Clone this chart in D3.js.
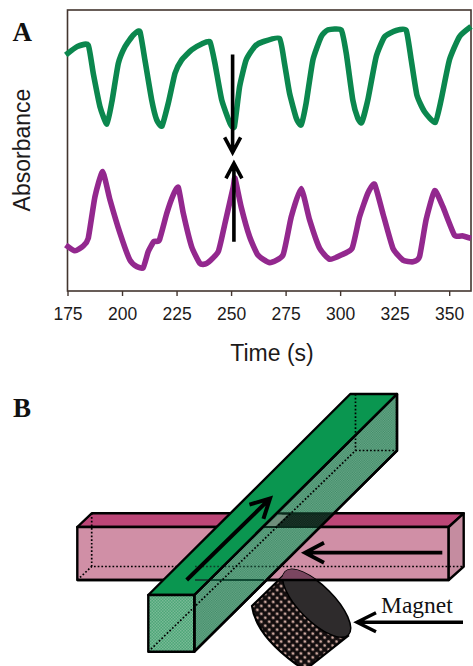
<!DOCTYPE html>
<html>
<head>
<meta charset="utf-8">
<script src="https://cdn.jsdelivr.net/npm/d3@7"></script>
<style>
  html, body { margin: 0; padding: 0; background: #fff; }
  svg { display: block; }
</style>
</head>
<body>
<div id="chart"></div>
<script>
// values (absorbance in arbitrary units, 0-100 over the frame height)
var greenTime = [174.2, 179.5, 184.5, 186.8, 189.9, 193.1, 195.5, 198.3, 201.4, 205.2, 208.2, 210.5, 213.6, 215.9, 218.3, 221.2, 224.3, 227.3, 231.9, 236.5, 240.3, 242.6, 245.7, 249.5, 251.5, 253.9, 256.9, 260.8, 264.6, 272.2, 274.5, 276.8, 279.9, 282.1, 284.4, 287.5, 291.3, 294.4, 300.5, 302.8, 305.8, 308.1, 309.9, 312.7, 316.5, 320.4, 325.7, 330.3, 332.6, 335.2, 338.7, 343.6, 346.3, 350.1, 354.7, 360];
var greenAbs = [84.0, 87.0, 87.5, 77.5, 65.6, 59.4, 68.0, 81.0, 87.0, 91.1, 92.3, 82.2, 68.0, 60.9, 58.7, 66.8, 77.5, 82.2, 85.8, 87.9, 88.7, 81.0, 68.0, 59.7, 58.5, 72.7, 82.2, 87.0, 88.7, 89.9, 81.0, 70.4, 61.5, 59.1, 66.8, 82.2, 90.5, 92.9, 92.9, 84.6, 68.0, 61.5, 60.0, 68.0, 83.3, 90.5, 92.7, 92.7, 82.2, 69.7, 63.8, 60.0, 68.0, 82.2, 90.5, 94.1];
var purpleTime = [174.2, 178.4, 182.2, 184.5, 187.6, 191.1, 194.5, 199.1, 203.6, 206.7, 209.7, 212, 214.6, 217.1, 220.5, 223.5, 225.8, 228.1, 231.9, 235.7, 238.8, 244.1, 247.2, 251, 251.8, 254.6, 258.5, 262.3, 267.7, 273.8, 277.6, 282.1, 286, 290.6, 295.2, 300.5, 305.5, 308.9, 312.7, 315.8, 319.6, 324.2, 328.8, 333.4, 336.4, 339.4, 343.3, 347.1, 352.4, 356.3, 360];
var purpleAbs = [16.4, 14.3, 16.0, 18.7, 33.6, 42.5, 32.4, 20.5, 11.0, 8.7, 8.3, 14.0, 17.6, 18.1, 27.6, 34.2, 36.9, 27.6, 15.8, 9.8, 9.8, 14.0, 24.1, 37.1, 40.1, 30.0, 19.3, 12.8, 10.1, 12.8, 26.4, 36.5, 25.3, 15.2, 11.3, 12.8, 15.2, 26.4, 34.8, 38.0, 27.6, 15.2, 11.0, 10.4, 12.2, 25.3, 35.7, 30.0, 19.9, 19.6, 18.7];
var xTicks = [175, 200, 225, 250, 275, 300, 325, 350];

var width = 473, height = 666;
var margin = { top: 10, right: 2, bottom: 375, left: 67.5 };

var svg = d3.select("#chart")
  .append("svg")
  .attr("width", width)
  .attr("height", height);

var x = d3.scaleLinear().domain([175, 360]).range([margin.left, width - margin.right]);
var y = d3.scaleLinear().domain([0, 100]).range([height - margin.bottom, margin.top]);

var frameColor = "#43352f";
var sans = "'Liberation Sans', Arial, sans-serif";
var serif = "'Liberation Serif', 'Times New Roman', serif";

// panel A
svg.append("rect")
  .attr("x", margin.left)
  .attr("y", margin.top)
  .attr("width", width - margin.left - margin.right)
  .attr("height", height - margin.top - margin.bottom)
  .attr("fill", "#fff")
  .attr("stroke", frameColor)
  .attr("stroke-width", 1.6);

var xAxis = svg.append("g")
  .attr("transform", "translate(0," + (height - margin.bottom) + ")")
  .call(d3.axisBottom(x).tickValues(xTicks).tickSize(5).tickPadding(12).tickSizeOuter(0));
xAxis.select(".domain").remove();
xAxis.selectAll("line").attr("stroke", frameColor).attr("stroke-width", 1.4);
xAxis.selectAll("text").attr("font-family", sans).attr("font-size", 17.5).attr("fill", "#1c1a1a");

var line = d3.line()
  .x(function (d) { return x(d[0]) })
  .y(function (d) { return y(d[1]) })
  .curve(d3.curveCardinal.tension(0.5));

svg.append("path")
  .attr("d", line(d3.zip(greenTime, greenAbs)))
  .attr("fill", "none")
  .attr("stroke", "#0b874e")
  .attr("stroke-width", 5.6)
  .attr("stroke-linejoin", "round");

svg.append("path")
  .attr("d", line(d3.zip(purpleTime, purpleAbs)))
  .attr("fill", "none")
  .attr("stroke", "#93288e")
  .attr("stroke-width", 5.6)
  .attr("stroke-linejoin", "round");

// draws a straight arrow with an open head; tip is the pointed end
function arrow(x0, y0, x1, y1, headBack, headSide, w) {
  var a = Math.atan2(y1 - y0, x1 - x0);
  var ux = Math.cos(a), uy = Math.sin(a);
  var d = d3.path();
  d.moveTo(x0, y0);
  d.lineTo(x1, y1);
  d.moveTo(x1 - ux * headBack - uy * headSide, y1 - uy * headBack + ux * headSide);
  d.lineTo(x1, y1);
  d.lineTo(x1 - ux * headBack + uy * headSide, y1 - uy * headBack - ux * headSide);
  svg.append("path")
    .attr("d", d.toString())
    .attr("fill", "none")
    .attr("stroke", "#000")
    .attr("stroke-width", w)
    .attr("stroke-linejoin", "miter");
}

arrow(x(250.7), y(84.2), x(250.7), y(49.3), 15, 8, 3.6);
arrow(x(251.3), y(17.5), x(251.3), y(45.4), 15, 8, 3.6);

svg.append("text")
  .attr("x", 272)
  .attr("y", 361)
  .attr("text-anchor", "middle")
  .attr("font-family", sans)
  .attr("font-size", 23)
  .attr("fill", "#1c1a1a")
  .text("Time (s)");

svg.append("text")
  .attr("transform", "translate(29.5,150) rotate(-90)")
  .attr("text-anchor", "middle")
  .attr("font-family", sans)
  .attr("font-size", 23)
  .attr("fill", "#1c1a1a")
  .text("Absorbance");

svg.append("text").attr("x", 12.5).attr("y", 41)
  .attr("font-family", serif).attr("font-weight", "bold").attr("font-size", 27).attr("fill", "#111")
  .text("A");
svg.append("text").attr("x", 13).attr("y", 417)
  .attr("font-family", serif).attr("font-weight", "bold").attr("font-size", 27).attr("fill", "#111")
  .text("B");

// panel B schematic
var defs = svg.append("defs");

function dither(id, base, dot, size) {
  var p = defs.append("pattern")
    .attr("id", id)
    .attr("patternUnits", "userSpaceOnUse")
    .attr("width", size)
    .attr("height", size);
  p.append("rect").attr("width", size).attr("height", size).attr("fill", base);
  p.append("rect").attr("width", size / 2).attr("height", size / 2).attr("fill", dot);
  p.append("rect").attr("x", size / 2).attr("y", size / 2).attr("width", size / 2).attr("height", size / 2).attr("fill", dot);
}
dither("greenFront", "#4da678", "#79ba96", 3);
dither("greenSide", "#6aa98a", "#3f8a66", 2.4);
dither("darkBand", "#0c2018", "#1d3a2c", 2.4);

var mesh = defs.append("pattern")
  .attr("id", "magnetMesh")
  .attr("patternUnits", "userSpaceOnUse")
  .attr("width", 5.6)
  .attr("height", 5.6)
  .attr("patternTransform", "rotate(45)");
mesh.append("rect").attr("width", 5.6).attr("height", 5.6).attr("fill", "#120d0e");
mesh.append("circle").attr("cx", 2.8).attr("cy", 2.8).attr("r", 1.5).attr("fill", "#cda89f");

var clip = defs.append("clipPath").attr("id", "pinkClip");
clip.append("rect").attr("x", 77.3).attr("y", 527).attr("width", 371.4).attr("height", 53);

function poly(points, fill, w) {
  return svg.append("path")
    .attr("d", d3.line()(points) + "Z")
    .attr("fill", fill)
    .attr("stroke", "#000")
    .attr("stroke-width", w === undefined ? 2.4 : w)
    .attr("stroke-linejoin", "round");
}
function dots(points, color) {
  return svg.append("path")
    .attr("d", d3.line()(points))
    .attr("fill", "none")
    .attr("stroke", color || "#000")
    .attr("stroke-width", 1.7)
    .attr("stroke-dasharray", "1.7,2");
}

// pink channel
poly([[77.3, 527], [91.7, 513.3], [463.7, 513.3], [448.7, 527]], "#bc4677");
poly([[77.3, 527], [448.7, 527], [448.7, 580], [77.3, 580]], "#d08fa6");
poly([[448.7, 527], [463.7, 513.3], [463.7, 566.7], [448.7, 580]], "#c58ca0");
dots([[91.7, 513.3], [91.7, 566.5], [463.7, 566.5]]);
dots([[77.3, 580], [91.7, 566.5]]);

// magnet
svg.append("path")
  .attr("d", "M286,573 L252,606 Q256,635 296,664 L305,670 L348,636 Z")
  .attr("fill", "url(#magnetMesh)")
  .attr("stroke", "#000")
  .attr("stroke-width", 2.2);
svg.append("ellipse")
  .attr("transform", "translate(316.7,603.3) rotate(45)")
  .attr("rx", 44.7)
  .attr("ry", 17.5)
  .attr("fill", "#2e2b2c")
  .attr("stroke", "#000")
  .attr("stroke-width", 1.5);
// the part of the magnet seen through the pink channel
svg.append("g").attr("clip-path", "url(#pinkClip)")
  .append("ellipse")
  .attr("transform", "translate(316.7,603.3) rotate(45)")
  .attr("rx", 44.7)
  .attr("ry", 17.5)
  .attr("fill", "#7b4660");
svg.append("g").attr("clip-path", "url(#pinkClip)")
  .append("path")
  .attr("d", "M286,573 L270,589 L300,589 Z")
  .attr("fill", "#7b4660");
svg.append("path").attr("d", "M77.3,580H448.7").attr("stroke", "#000").attr("stroke-width", 2.4);

// green channel
poly([[194.3, 595], [397, 394], [397, 450.7], [194.3, 651.7]], "url(#greenSide)");
poly([[148.3, 595], [194.3, 595], [397, 394], [350.3, 394]], "#0a9650");
poly([[148.3, 595], [194.3, 595], [194.3, 651.7], [148.3, 651.7]], "url(#greenFront)");

// dark crossing and the pink edges seen through the green side
svg.append("path")
  .attr("d", d3.line()([[269, 527], [283, 513.5], [333, 513.5], [319, 527]]) + "Z")
  .attr("fill", "url(#darkBand)");
svg.append("path")
  .attr("d", d3.line()([[265, 527], [279, 514.5], [288, 514.5], [275, 527]]) + "Z")
  .attr("fill", "#6f8f7c");
svg.append("path").attr("d", "M278,513.3H333").attr("stroke", "#0a2a1c").attr("stroke-width", 2.2);
svg.append("path").attr("d", "M264,527H319").attr("stroke", "#0a2a1c").attr("stroke-width", 2.2);
svg.append("path").attr("d", "M195,580H264").attr("stroke", "#0f4a33").attr("stroke-width", 1.8);
dots([[195, 566.5], [279, 566.5]], "#0f3a28");

dots([[148.3, 651.7], [355.5, 450.5], [397, 450.5]]);
dots([[355.5, 394], [355.5, 450.5]]);

// redraw the green outline where the inner lines cross it
svg.append("path").attr("d", "M194.3,595L397,394V450.7L194.3,651.7Z").attr("fill", "none").attr("stroke", "#000").attr("stroke-width", 2.4).attr("stroke-linejoin", "round");

arrow(186.7, 580, 270, 498.5, 19, 10, 4);
arrow(442.3, 552.7, 305, 552.7, 19, 10, 3.8);
arrow(463, 622.3, 357, 622.3, 19, 9.5, 3.4);

svg.append("text")
  .attr("x", 381)
  .attr("y", 613)
  .attr("font-family", serif)
  .attr("font-size", 23.5)
  .attr("fill", "#111")
  .text("Magnet");
</script>
</body>
</html>
